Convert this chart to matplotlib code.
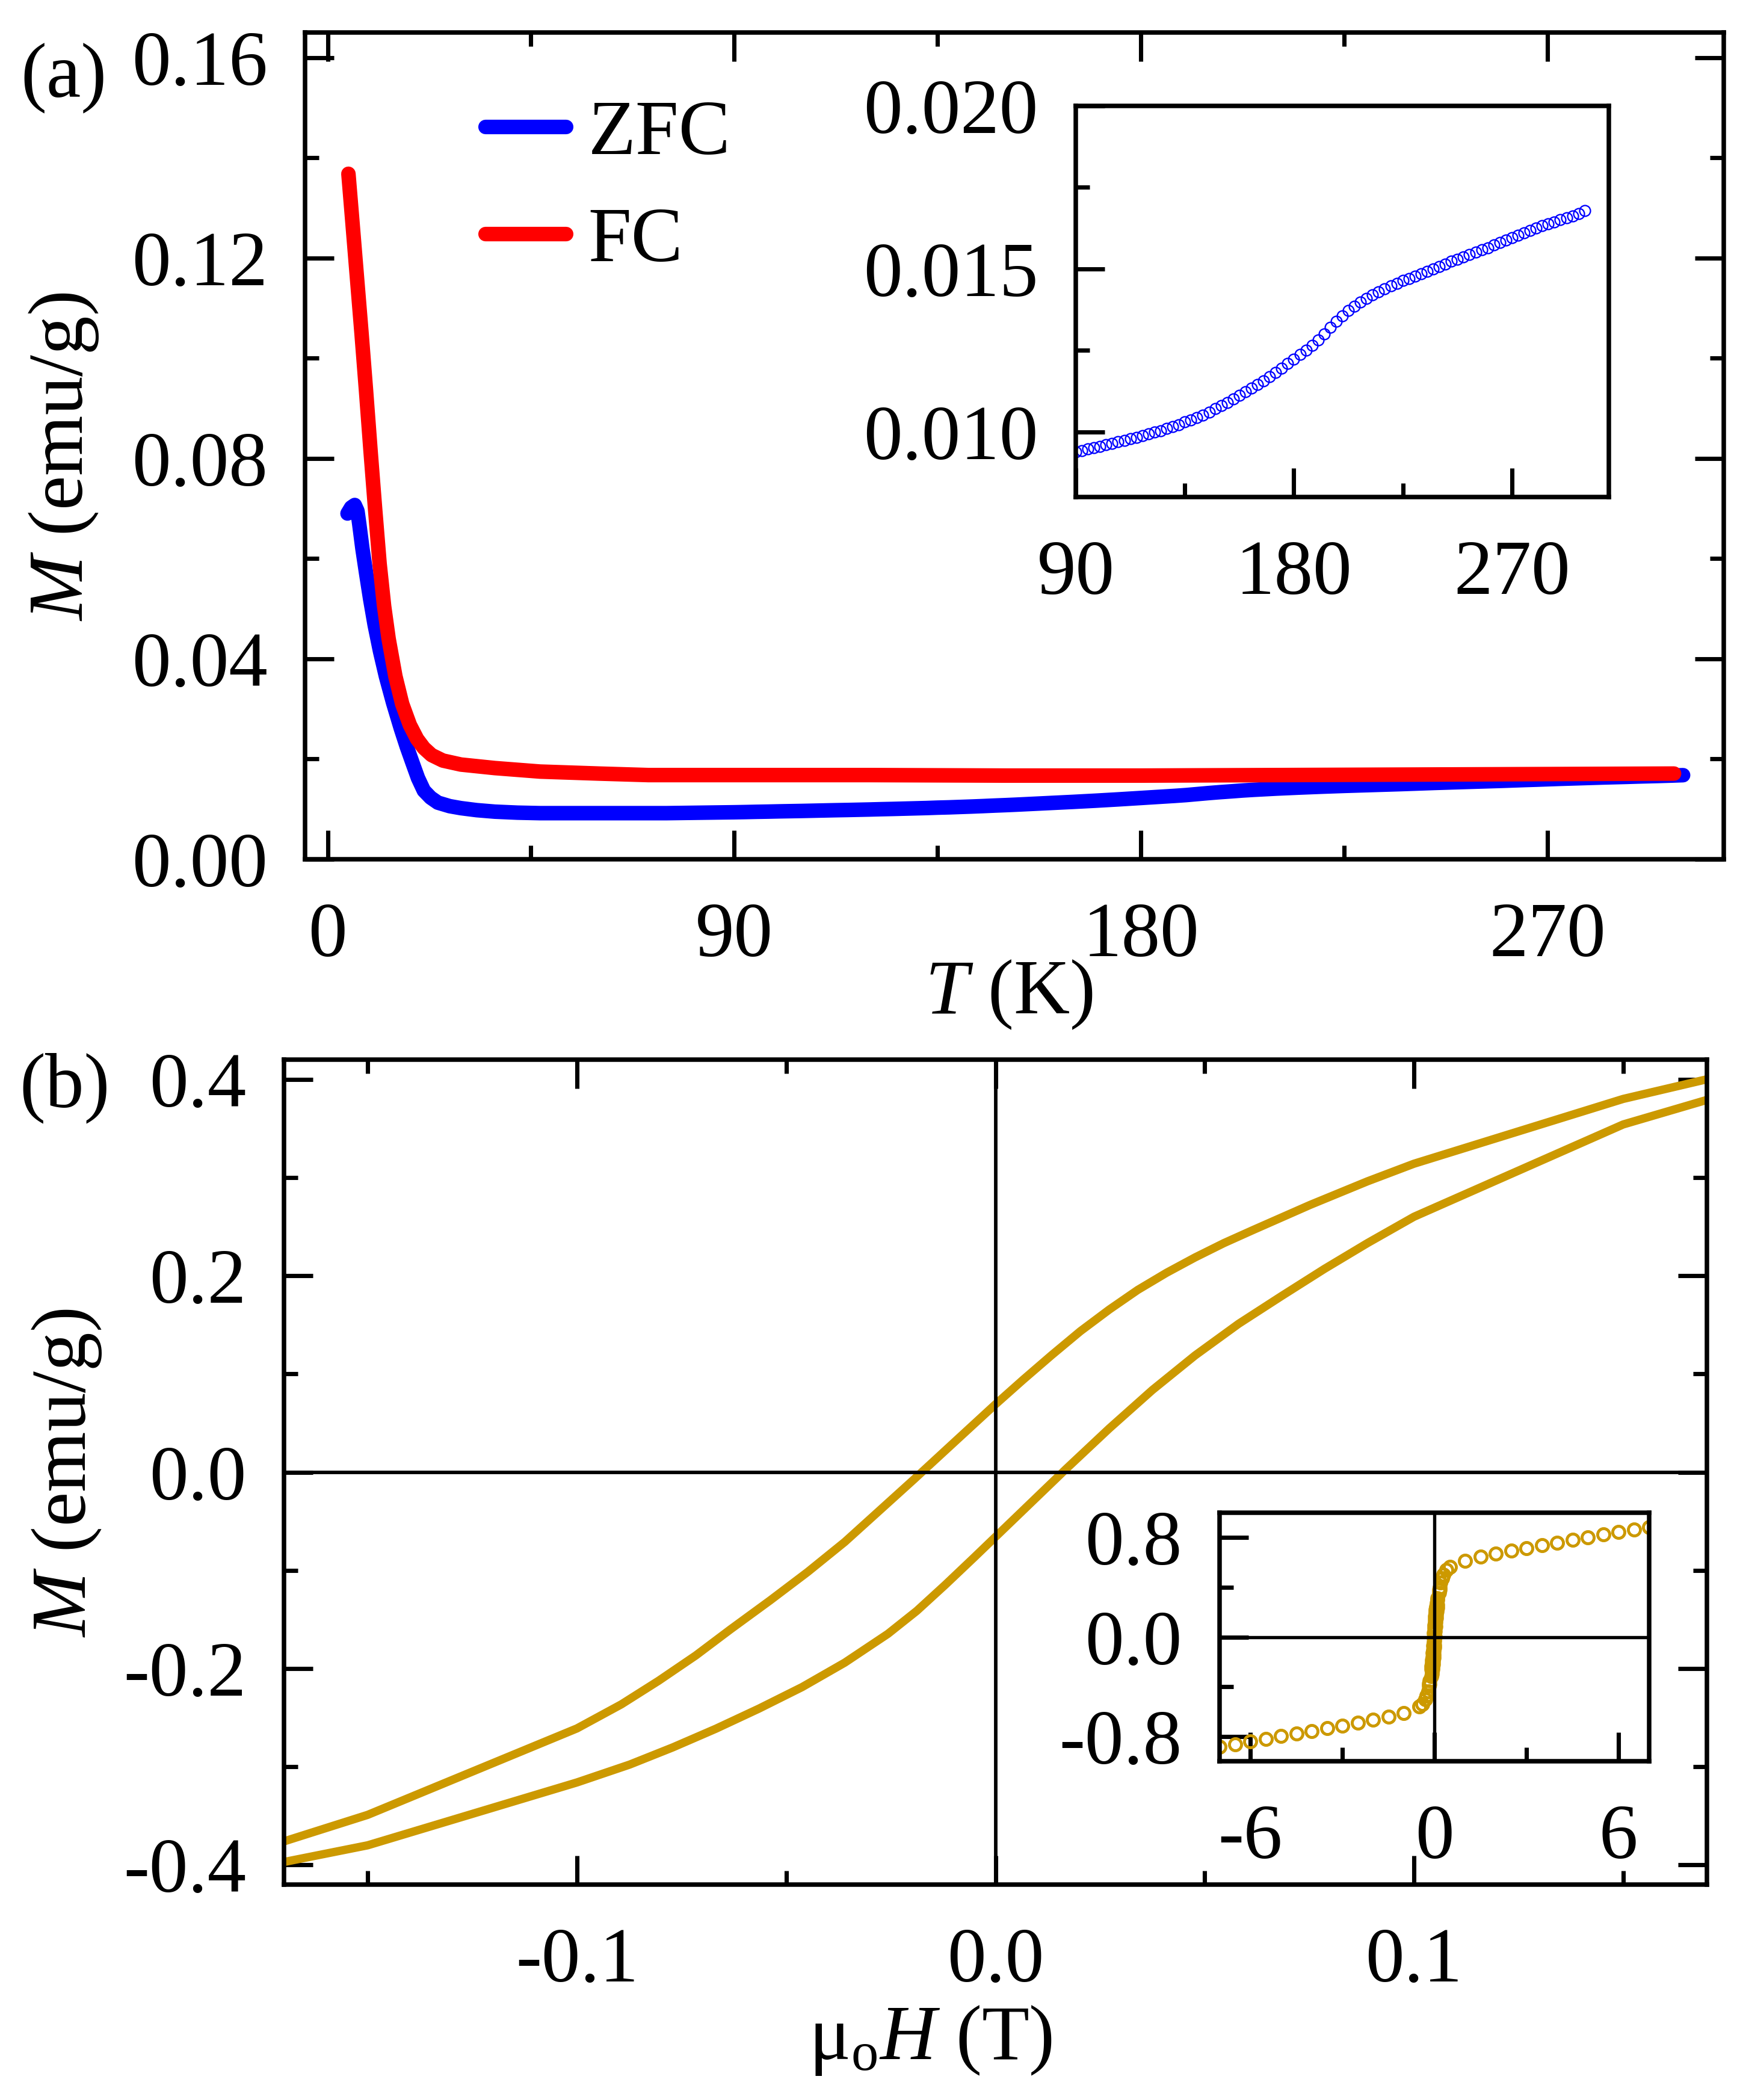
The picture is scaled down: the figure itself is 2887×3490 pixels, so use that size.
import numpy as np
import matplotlib
matplotlib.use('Agg')
import matplotlib.pyplot as plt
from matplotlib.ticker import MultipleLocator, FormatStrFormatter

plt.rcParams['font.family'] = ['Liberation Serif', 'DejaVu Serif']
plt.rcParams['mathtext.fontset'] = 'custom'
plt.rcParams['mathtext.rm'] = 'Liberation Serif'
plt.rcParams['mathtext.it'] = 'Liberation Serif:italic'
plt.rcParams['axes.unicode_minus'] = False
plt.rcParams['font.size'] = 31

# ---- data: (a) M vs T ----
T_zfc_low = [4.4, 5.2, 6.0, 6.6, 7.0, 7.7, 8.5, 9.4, 10.4, 11.6, 12.9, 14.5, 16.2, 17.5,
             18.8, 20.0, 21.3, 22.8, 24.4, 27.0, 29.5, 33.0, 37.0, 42.0, 47.0, 55.0, 65.0,
             75.0, 85.0]
M_zfc_low = [0.0690, 0.0702, 0.0707, 0.0695, 0.0669, 0.0620, 0.0572, 0.0520, 0.0468, 0.0415,
             0.0365, 0.0312, 0.0261, 0.0225, 0.0192, 0.0162, 0.0137, 0.0123, 0.0113, 0.0106,
             0.0102, 0.0098, 0.0095, 0.0093, 0.0092, 0.0092, 0.0092, 0.0092, 0.00932]

# ZFC above 90 K (also shown in the inset)
T_zfc_hi = [90, 92.5, 95, 97.5, 100, 102.5, 105, 107.5, 110, 112.5, 115, 117.5, 120, 122.5,
            125, 127.5, 130, 132.5, 135, 137.5, 140, 142.5, 145, 147.5, 150, 152.5, 155,
            157.5, 160, 162.5, 165, 167.5, 170, 172.5, 175, 177.5, 180, 182.5, 185, 187.5,
            190, 192.5, 195, 197.5, 200, 202.5, 205, 207.5, 210, 212.5, 215, 217.5, 220,
            222.5, 225, 227.5, 230, 232.5, 235, 237.5, 240, 242.5, 245, 247.5, 250, 252.5,
            255, 257.5, 260, 262.5, 265, 267.5, 270, 272.5, 275, 277.5, 280, 282.5, 285,
            287.5, 290, 292.5, 295, 297.5, 300]
M_zfc_hi = [0.00938, 0.00942, 0.00947, 0.00951, 0.00956, 0.00960, 0.00964, 0.00969, 0.00974,
            0.00979, 0.00983, 0.00988, 0.00993, 0.00999, 0.01004, 0.01010, 0.01016, 0.01022,
            0.01030, 0.01036, 0.01044, 0.01052, 0.01061, 0.01071, 0.01080, 0.01090, 0.01101,
            0.01112, 0.01123, 0.01134, 0.01145, 0.01157, 0.01169, 0.01182, 0.01195, 0.01209,
            0.01223, 0.01237, 0.01251, 0.01265, 0.01281, 0.01301, 0.01321, 0.01339, 0.01355,
            0.01372, 0.01386, 0.01398, 0.01410, 0.01420, 0.01430, 0.01439, 0.01448, 0.01456,
            0.01464, 0.01471, 0.01478, 0.01485, 0.01492, 0.01499, 0.01507, 0.01515, 0.01523,
            0.01530, 0.01537, 0.01544, 0.01551, 0.01558, 0.01565, 0.01573, 0.01581, 0.01588,
            0.01596, 0.01604, 0.01611, 0.01618, 0.01625, 0.01632, 0.01638, 0.01644, 0.01651,
            0.01657, 0.01663, 0.01670, 0.01678]

T_fc = [4.6, 5.5, 6.5, 7.5, 8.5, 9.5, 10.5, 11.5, 12.5, 13.5, 15.0, 16.5, 18.2, 19.8, 21.3,
        23.0, 25.5, 29.5, 37.0, 47.0, 60.0, 71.0, 90.0, 120.0, 150.0, 180.0, 210.0, 240.0,
        270.0, 298.0]
M_fc = [0.1368, 0.1270, 0.1160, 0.1050, 0.0935, 0.0815, 0.0700, 0.0590, 0.0505, 0.0440,
        0.0365, 0.0310, 0.0268, 0.0240, 0.0222, 0.0208, 0.0197, 0.0189, 0.0182, 0.0175,
        0.0171, 0.0168, 0.0168, 0.0168, 0.0167, 0.0167, 0.0168, 0.0169, 0.0170, 0.0171]

# ---- data: (b) M vs H, low field loop ----
H_down = [0.170, 0.150, 0.100, 0.0889, 0.0752, 0.0615, 0.0546, 0.0477, 0.0409, 0.0340,
          0.0272, 0.0203, 0.0134, 0.0066, 0.0, -0.0100, -0.0195, -0.0278, -0.0360, -0.0449,
          -0.0538, -0.0634, -0.0716, -0.0805, -0.0894, -0.100, -0.150, -0.170]
M_down = [0.400, 0.380, 0.314, 0.2961, 0.2721, 0.2464, 0.2332, 0.2186, 0.2030, 0.1855,
          0.1655, 0.1435, 0.1190, 0.0940, 0.069, 0.0298, -0.0075, -0.0395, -0.0711, -0.1018,
          -0.1305, -0.1604, -0.1867, -0.2125, -0.2365, -0.261, -0.349, -0.376]
H_up = [-0.170, -0.150, -0.100, -0.0874, -0.0771, -0.0668, -0.0565, -0.0462, -0.0360,
        -0.0257, -0.0188, -0.0120, -0.0051, 0.0, 0.0080, 0.0169, 0.0272, 0.0375, 0.0477,
        0.0581, 0.0683, 0.0786, 0.0889, 0.100, 0.150, 0.170]
M_up = [-0.397, -0.380, -0.316, -0.2978, -0.2803, -0.2613, -0.2408, -0.2189, -0.1940,
        -0.1647, -0.1413, -0.1148, -0.0869, -0.066, -0.0332, 0.0033, 0.0445, 0.0836, 0.1188,
        0.1510, 0.1791, 0.2069, 0.2332, 0.260, 0.354, 0.379]

# high field part of the loop (inset)
H_hi_pos = [7.0, 6.5, 6.0, 5.5, 5.0, 4.5, 4.0, 3.5, 3.0, 2.5, 2.0, 1.5, 1.0, 0.5, 0.4, 0.3, 0.25, 0.2]
M_hi_pos = [0.884, 0.865, 0.845, 0.824, 0.803, 0.782, 0.760, 0.738, 0.716, 0.693, 0.670,
            0.645, 0.615, 0.562, 0.540, 0.500, 0.470, 0.440]
H_hi_neg = [-0.2, -0.25, -0.3, -0.4, -0.5, -1.0, -1.5, -2.0, -2.5, -3.0, -3.5, -4.0, -4.5,
            -5.0, -5.5, -6.0, -6.5, -7.0]
M_hi_neg = [-0.440, -0.470, -0.500, -0.540, -0.558, -0.612, -0.642, -0.668, -0.690, -0.712,
            -0.735, -0.757, -0.778, -0.799, -0.820, -0.840, -0.862, -0.884]

blue = '#0000FF'
red = '#FF0000'
gold = '#CC9900'

W, H = 2887, 3490
fig = plt.figure(figsize=(W / 300, H / 300), dpi=300)


def rect(x0, y0, x1, y1):
    # pixel box -> figure fraction
    return [x0 / W, 1 - y1 / H, (x1 - x0) / W, (y1 - y0) / H]


def style(ax, top=True, right=True, xpad=17, ypad=15):
    ax.tick_params(which='both', direction='in', width=1.7, top=top, right=right)
    ax.tick_params(which='major', length=11.5)
    ax.tick_params(which='minor', length=5.5)
    ax.tick_params(axis='x', pad=xpad, labelsize=31)
    ax.tick_params(axis='y', pad=ypad, labelsize=31)
    for s in ax.spines.values():
        s.set_linewidth(1.8)


# ---------------- panel (a) ----------------
ax_a = fig.add_axes(rect(507, 54, 2865, 1428))
T_zfc = np.concatenate([T_zfc_low, T_zfc_hi])
M_zfc = np.concatenate([M_zfc_low, M_zfc_hi])
ax_a.plot(T_zfc, M_zfc, color=blue, lw=5.8, solid_capstyle='round', label='ZFC')
ax_a.plot(T_fc, M_fc, color=red, lw=5.8, solid_capstyle='round', label='FC')
ax_a.set_xlim(-5, 309)
ax_a.set_ylim(0, 0.165)
ax_a.xaxis.set_major_locator(MultipleLocator(90))
ax_a.xaxis.set_minor_locator(MultipleLocator(45))
ax_a.yaxis.set_major_locator(MultipleLocator(0.04))
ax_a.yaxis.set_minor_locator(MultipleLocator(0.02))
ax_a.yaxis.set_major_formatter(FormatStrFormatter('%.2f'))
style(ax_a)
ax_a.legend(loc='upper left', bbox_to_anchor=(807 / W, 1 - 166 / H),
            bbox_transform=fig.transFigure, frameon=False, borderpad=0, borderaxespad=0,
            handlelength=1.04, handletextpad=0.28, labelspacing=0.46, fontsize=31)

# inset (a)
ins_a = fig.add_axes(rect(1788, 176, 2674, 826))
ins_a.plot(T_zfc_hi, M_zfc_hi, ls='none', marker='o', ms=4.3, mfc='none', mec=blue, mew=0.55)
ins_a.set_xlim(90, 310)
ins_a.set_ylim(0.008, 0.020)
ins_a.xaxis.set_major_locator(MultipleLocator(90))
ins_a.xaxis.set_minor_locator(MultipleLocator(45))
ins_a.yaxis.set_major_locator(MultipleLocator(0.005))
ins_a.yaxis.set_minor_locator(MultipleLocator(0.0025))
ins_a.yaxis.set_major_formatter(FormatStrFormatter('%.3f'))
style(ins_a, top=False, right=False)

# ---------------- panel (b) ----------------
ax_b = fig.add_axes(rect(472, 1761, 2837, 3132))
ax_b.plot(H_down, M_down, color=gold, lw=3.3)
ax_b.plot(H_up, M_up, color=gold, lw=3.3)
ax_b.axhline(0, color='k', lw=1.4, zorder=3)
ax_b.axvline(0, color='k', lw=1.4, zorder=3)
ax_b.set_xlim(-0.17, 0.17)
ax_b.set_ylim(-0.42, 0.42)
ax_b.xaxis.set_major_locator(MultipleLocator(0.1))
ax_b.xaxis.set_minor_locator(MultipleLocator(0.05))
ax_b.yaxis.set_major_locator(MultipleLocator(0.2))
ax_b.yaxis.set_minor_locator(MultipleLocator(0.1))
ax_b.xaxis.set_major_formatter(FormatStrFormatter('%.1f'))
ax_b.yaxis.set_major_formatter(FormatStrFormatter('%.1f'))
style(ax_b)

# inset (b): full loop
ins_b = fig.add_axes(rect(2027, 2514, 2741, 2927))
H_loop_down = np.concatenate([H_hi_pos, H_down, H_hi_neg])
M_loop_down = np.concatenate([M_hi_pos, M_down, M_hi_neg])
H_loop_up = np.concatenate([H_hi_neg[::-1], H_up, H_hi_pos[::-1]])
M_loop_up = np.concatenate([M_hi_neg[::-1], M_up, M_hi_pos[::-1]])
ins_b.plot(H_loop_down, M_loop_down, ls='none', marker='o', ms=4.8, mfc='none', mec=gold, mew=1.1)
ins_b.plot(H_loop_up, M_loop_up, ls='none', marker='o', ms=4.8, mfc='none', mec=gold, mew=1.1)
ins_b.axhline(0, color='k', lw=1.3, zorder=3)
ins_b.axvline(0, color='k', lw=1.3, zorder=3)
ins_b.set_xlim(-7, 7)
ins_b.set_ylim(-1.0, 1.0)
ins_b.xaxis.set_major_locator(MultipleLocator(6))
ins_b.xaxis.set_minor_locator(MultipleLocator(3))
ins_b.yaxis.set_major_locator(MultipleLocator(0.8))
ins_b.yaxis.set_minor_locator(MultipleLocator(0.4))
ins_b.xaxis.set_major_formatter(FormatStrFormatter('%d'))
ins_b.yaxis.set_major_formatter(FormatStrFormatter('%.1f'))
style(ins_b, top=False, right=False)

# ---------------- labels ----------------
fig.text(106 / W, 1 - 130 / H, '(a)', ha='center', va='center', fontsize=31)
fig.text(108 / W, 1 - 1808 / H, '(b)', ha='center', va='center', fontsize=31)
fig.text(106 / W, 1 - 759 / H, r'$M$ (emu/g)', rotation=90, ha='center', va='center', fontsize=31)
fig.text(111 / W, 1 - 2448 / H, r'$M$ (emu/g)', rotation=90, ha='center', va='center', fontsize=31)
fig.text(1677 / W, 1 - 1653 / H, r'$T$ (K)', ha='center', va='center', fontsize=31)
fig.text(1547 / W, 1 - 3391 / H, r'$\mathrm{\mu_o}H$ (T)', ha='center', va='center', fontsize=31)

fig.savefig('out.png', dpi=300)
